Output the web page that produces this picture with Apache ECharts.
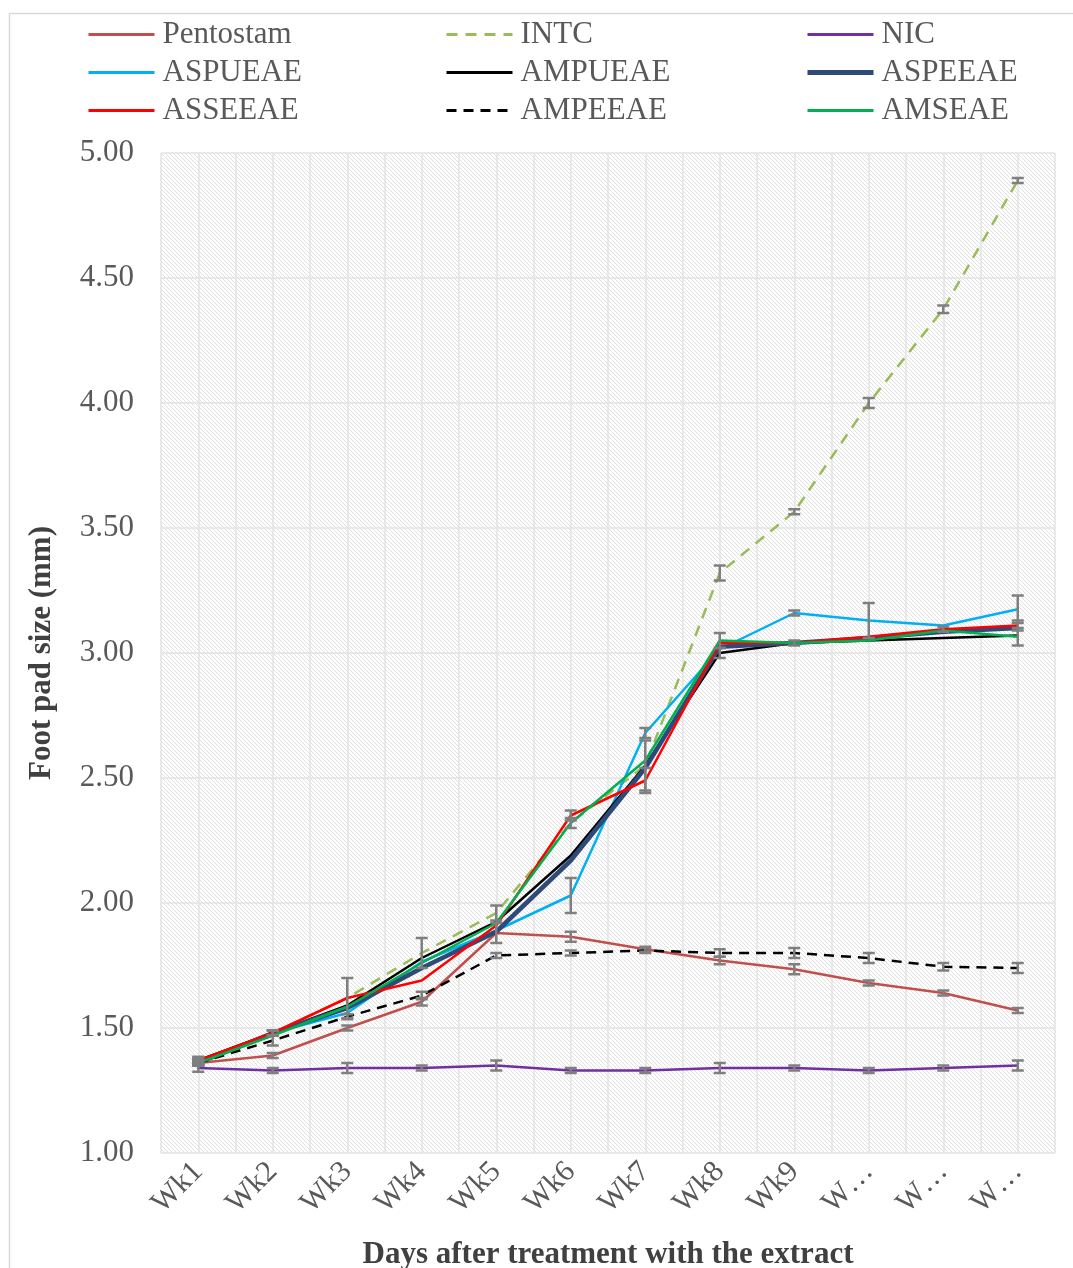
<!DOCTYPE html>
<html>
<head>
<meta charset="utf-8">
<script src="https://cdn.jsdelivr.net/npm/echarts@6/dist/echarts.min.js"></script>
<style>
  html, body { margin: 0; padding: 0; background: #ffffff; }
  #chart { width: 1073px; height: 1268px; }
</style>
</head>
<body>
<div id="chart"></div>
<script>
// Weekly foot pad measurements (mm) per treatment group
const weeks = ['Wk1', 'Wk2', 'Wk3', 'Wk4', 'Wk5', 'Wk6', 'Wk7', 'Wk8', 'Wk9', 'Wk10', 'Wk11', 'Wk12'];
const weekLabels = ['Wk1', 'Wk2', 'Wk3', 'Wk4', 'Wk5', 'Wk6', 'Wk7', 'Wk8', 'Wk9', 'W…', 'W…', 'W…'];

const pentostam = [1.36, 1.39, 1.50, 1.605, 1.88, 1.865, 1.815, 1.77, 1.735, 1.68, 1.64, 1.57];
const intc      = [1.36, 1.48, 1.62, 1.80, 1.96, 2.32, 2.55, 3.32, 3.565, 4.00, 4.375, 4.89];
const nic       = [1.34, 1.33, 1.34, 1.34, 1.35, 1.33, 1.33, 1.34, 1.34, 1.33, 1.34, 1.35];
const aspueae   = [1.37, 1.48, 1.56, 1.765, 1.89, 2.03, 2.68, 3.015, 3.16, 3.13, 3.11, 3.175];
const ampueae   = [1.37, 1.48, 1.59, 1.78, 1.925, 2.19, 2.55, 3.00, 3.04, 3.05, 3.06, 3.07];
const aspeeae   = [1.36, 1.48, 1.58, 1.74, 1.885, 2.17, 2.54, 3.025, 3.04, 3.06, 3.085, 3.10];
const asseeae   = [1.37, 1.48, 1.62, 1.69, 1.91, 2.35, 2.49, 3.04, 3.04, 3.065, 3.095, 3.11];
const ampeeae   = [1.36, 1.45, 1.545, 1.63, 1.79, 1.80, 1.81, 1.80, 1.80, 1.78, 1.745, 1.74];
const amseae    = [1.36, 1.47, 1.585, 1.76, 1.92, 2.32, 2.57, 3.05, 3.04, 3.05, 3.09, 3.065];

// Standard error (±) for each point; 0 means no bar is drawn
const pentostamErr = [0.01, 0.01, 0.01, 0.015, 0.04, 0.02, 0.01, 0.015, 0.02, 0.01, 0.01, 0.01];
const intcErr      = [0.01, 0.01, 0.08, 0.06, 0.03, 0, 0.10, 0.03, 0.01, 0.02, 0.015, 0.01];
const nicErr       = [0.015, 0.01, 0.02, 0.01, 0.02, 0.01, 0.01, 0.02, 0.01, 0.01, 0.01, 0.02];
const aspueaeErr   = [0.01, 0.01, 0, 0, 0, 0.07, 0.02, 0, 0.01, 0.07, 0, 0.055];
const ampueaeErr   = [0.01, 0, 0, 0, 0, 0, 0, 0.02, 0, 0, 0, 0];
const aspeeaeErr   = [0.01, 0, 0, 0, 0, 0, 0, 0, 0, 0, 0, 0];
const asseeaeErr   = [0.015, 0.01, 0, 0, 0, 0.02, 0.05, 0, 0, 0, 0.01, 0.02];
const ampeeaeErr   = [0.01, 0.02, 0.01, 0.015, 0.01, 0.01, 0.01, 0.015, 0.02, 0.02, 0.015, 0.02];
const amseaeErr    = [0.01, 0, 0, 0, 0, 0.02, 0, 0.03, 0.01, 0, 0, 0.035];

const groups = [
  { name: 'Pentostam', data: pentostam, err: pentostamErr, color: '#c0504d', width: 2.5, dash: 'solid' },
  { name: 'INTC',      data: intc,      err: intcErr,      color: '#9bbb59', width: 2.5, dash: [11, 8] },
  { name: 'NIC',       data: nic,       err: nicErr,       color: '#7030a0', width: 2.5, dash: 'solid' },
  { name: 'ASPUEAE',   data: aspueae,   err: aspueaeErr,   color: '#00b0f0', width: 2.5, dash: 'solid' },
  { name: 'AMPUEAE',   data: ampueae,   err: ampueaeErr,   color: '#000000', width: 2.5, dash: 'solid' },
  { name: 'ASPEEAE',   data: aspeeae,   err: aspeeaeErr,   color: '#2e4a78', width: 4.5, dash: 'solid' },
  { name: 'ASSEEAE',   data: asseeae,   err: asseeaeErr,   color: '#ff0000', width: 2.5, dash: 'solid' },
  { name: 'AMPEEAE',   data: ampeeae,   err: ampeeaeErr,   color: '#000000', width: 2.5, dash: [10, 7] },
  { name: 'AMSEAE',    data: amseae,    err: amseaeErr,    color: '#00b050', width: 2.5, dash: 'solid' }
];

const serifFont = 'Liberation Serif';
const labelGrey = '#595959';
const gridGrey = '#e3e3e3';

// Fine diagonal hatch used as the plot-area fill
function hatchTile() {
  const c = document.createElement('canvas');
  c.width = 4; c.height = 4;
  const g = c.getContext('2d');
  g.fillStyle = '#ffffff';
  g.fillRect(0, 0, 4, 4);
  g.strokeStyle = '#dcdcdc';
  g.lineWidth = 0.9;
  g.beginPath();
  g.moveTo(-1, -1); g.lineTo(5, 5);
  g.moveTo(-1, 3);  g.lineTo(1, 5);
  g.moveTo(3, -1);  g.lineTo(5, 1);
  g.stroke();
  return c;
}

// Error bar rows: [categoryIndex, low, high]
const errorRows = [];
groups.forEach(function (grp) {
  grp.data.forEach(function (v, i) {
    if (grp.err[i] > 0) errorRows.push([i, v - grp.err[i], v + grp.err[i]]);
  });
});

const lineSeries = groups.map(function (grp) {
  return {
    name: grp.name,
    type: 'line',
    data: grp.data,
    symbol: 'none',
    showSymbol: false,
    smooth: false,
    lineStyle: { color: grp.color, width: grp.width, type: grp.dash },
    itemStyle: { color: grp.color },
    z: 3
  };
});

const errorSeries = {
  name: 'error',
  type: 'custom',
  data: errorRows,
  encode: { x: 0, y: [1, 2] },
  z: 5,
  silent: true,
  renderItem: function (params, api) {
    const x = api.value(0);
    const lo = api.coord([x, api.value(1)]);
    const hi = api.coord([x, api.value(2)]);
    const half = 6;
    const st = { stroke: '#7f7f7f', lineWidth: 2.5 };
    return {
      type: 'group',
      children: [
        { type: 'line', shape: { x1: lo[0], y1: lo[1], x2: hi[0], y2: hi[1] }, style: st },
        { type: 'line', shape: { x1: lo[0] - half, y1: lo[1], x2: lo[0] + half, y2: lo[1] }, style: st },
        { type: 'line', shape: { x1: hi[0] - half, y1: hi[1], x2: hi[0] + half, y2: hi[1] }, style: st }
      ]
    };
  }
};

// Legend laid out in three columns, three rows each
const legendColumns = [
  [groups[0], groups[3], groups[6]],
  [groups[1], groups[4], groups[7]],
  [groups[2], groups[5], groups[8]]
];
const legendLeft = [82, 440, 800];

const chart = echarts.init(document.getElementById('chart'), null, { renderer: 'canvas' });

chart.setOption({
  animation: false,
  backgroundColor: '#ffffff',
  graphic: [{
    type: 'rect',
    shape: { x: 9.5, y: 13.5, width: 1200, height: 1400 },
    style: { fill: 'none', stroke: '#d9d9d9', lineWidth: 1.5 },
    silent: true
  }],
  legend: legendColumns.map(function (col, i) {
    return {
      orient: 'vertical',
      left: legendLeft[i],
      top: 14,
      itemWidth: 66,
      itemHeight: 14,
      itemGap: 7,
      selectedMode: false,
      data: col.map(function (grp) {
        return { name: grp.name, lineStyle: { width: grp.width + 0.5, type: grp.dash } };
      }),
      itemStyle: { color: 'rgba(0,0,0,0)', borderWidth: 0, opacity: 0 },
      textStyle: { fontFamily: serifFont, fontSize: 31, lineHeight: 30, color: labelGrey, padding: [0, 0, 0, 3] }
    };
  }),
  grid: {
    show: true,
    left: 161,
    right: 18,
    top: 153,
    bottom: 115,
    borderWidth: 0,
    outerBoundsMode: 'none',
    containLabel: false,
    backgroundColor: { image: hatchTile(), repeat: 'repeat' }
  },
  xAxis: [{
    type: 'category',
    data: weeks,
    boundaryGap: true,
    axisLine: { show: false },
    axisTick: { show: false },
    splitLine: { show: false },
    axisLabel: {
      rotate: 45,
      margin: 14,
      interval: 0,
      fontFamily: serifFont,
      fontSize: 30,
      color: labelGrey,
      formatter: function (v, i) { return weekLabels[i]; }
    },
    name: 'Days after treatment with the extract',
    nameLocation: 'middle',
    nameGap: 86,
    nameTextStyle: { fontFamily: serifFont, fontSize: 31, fontWeight: 'bold', color: '#404040' }
  }, {
    // half-category grid lines
    type: 'value',
    position: 'top',
    min: 0,
    max: weeks.length * 2,
    interval: 1,
    axisLine: { show: false },
    axisTick: { show: false },
    axisLabel: { show: false },
    splitLine: { show: true, lineStyle: { color: gridGrey, width: 1.5 } }
  }],
  yAxis: {
    type: 'value',
    min: 1,
    max: 5,
    interval: 0.5,
    axisLine: { show: false },
    axisTick: { show: false },
    splitLine: { show: true, lineStyle: { color: gridGrey, width: 1.5 } },
    axisLabel: {
      margin: 27,
      fontFamily: serifFont,
      fontSize: 31,
      color: labelGrey,
      formatter: function (v) { return v.toFixed(2); }
    },
    name: 'Foot pad size (mm)',
    nameLocation: 'middle',
    nameGap: 104,
    nameRotate: 90,
    nameTextStyle: { fontFamily: serifFont, fontSize: 31, fontWeight: 'bold', color: '#404040' }
  },
  series: lineSeries.concat([errorSeries])
});
</script>
</body>
</html>
